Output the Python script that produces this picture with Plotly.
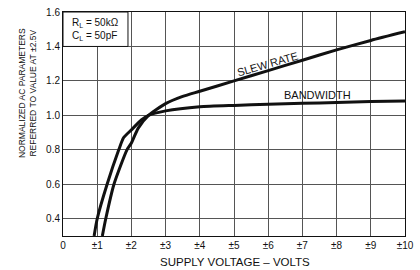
import plotly.graph_objects as go

# Data
bw_x = [0.91, 1.0, 1.29, 1.63, 1.77, 2.0, 2.29, 2.5, 3.0, 4.0, 5.0, 6.0, 7.0, 8.0, 9.0, 10.0]
bw_y = [0.30, 0.40, 0.60, 0.80, 0.87, 0.916, 0.973, 1.0, 1.026, 1.05, 1.058, 1.064, 1.07, 1.075, 1.08, 1.083]

sr_x = [1.15, 1.25, 1.49, 1.87, 2.0, 2.2, 2.5, 3.0, 3.5, 4.0, 5.0, 6.0, 7.0, 8.0, 9.0, 10.0]
sr_y = [0.30, 0.40, 0.60, 0.80, 0.84, 0.926, 1.0, 1.068, 1.11, 1.14, 1.20, 1.26, 1.32, 1.38, 1.435, 1.485]

x_ticks = [0, 1, 2, 3, 4, 5, 6, 7, 8, 9, 10]
x_labels = ["0", "±1", "±2", "±3", "±4", "±5", "±6", "±7", "±8", "±9", "±10"]
y_ticks = [0.4, 0.6, 0.8, 1.0, 1.2, 1.4, 1.6]
y_labels = ["0.4", "0.6", "0.8", "1.0", "1.2", "1.4", "1.6"]

FONT = "Liberation Sans, Arial, sans-serif"
INK = "#111111"

fig = go.Figure()
fig.add_trace(go.Scatter(x=bw_x, y=bw_y, mode="lines", line=dict(color=INK, width=3, shape="spline", smoothing=0.6),
                         name="BANDWIDTH", showlegend=False, hoverinfo="skip"))
fig.add_trace(go.Scatter(x=sr_x, y=sr_y, mode="lines", line=dict(color=INK, width=3, shape="spline", smoothing=0.6),
                         name="SLEW RATE", showlegend=False, hoverinfo="skip"))

fig.update_layout(
    width=420, height=270,
    margin=dict(l=63, r=6, t=8, b=34),
    paper_bgcolor="white", plot_bgcolor="white",
    font=dict(family=FONT, size=10, color=INK),
    xaxis=dict(range=[0, 10], tickvals=x_ticks, ticktext=x_labels, showgrid=True, gridcolor="#555555", gridwidth=1,
               showline=True, linecolor=INK, linewidth=1, mirror=True, ticks="", zeroline=False,
               ticklabeloverflow="allow", tickfont=dict(size=10, color=INK)),
    yaxis=dict(range=[0.3, 1.6], tickvals=y_ticks, ticktext=y_labels, showgrid=True, gridcolor="#555555", gridwidth=1,
               showline=True, linecolor=INK, linewidth=1, mirror=True, ticks="", zeroline=False,
               ticklabeloverflow="allow", tickfont=dict(size=10, color=INK)),
)

# Condition box
fig.add_shape(type="rect", xref="x", yref="y", x0=0, x1=1.9, y0=1.4, y1=1.6,
              fillcolor="white", line=dict(color=INK, width=1), layer="above")
fig.add_annotation(xref="x", yref="y", x=0.2, y=1.5, xanchor="left", yanchor="middle",
                   text="R<sub>L</sub> = 50kΩ<br>C<sub>L</sub> = 50pF", showarrow=False, align="left",
                   font=dict(size=10, color=INK, family=FONT))

# Curve labels
fig.add_annotation(xref="x", yref="y", x=5.97, y=1.30, text="SLEW RATE", showarrow=False,
                   textangle=-16, font=dict(size=11, color=INK, family=FONT))
fig.add_annotation(xref="x", yref="y", x=7.43, y=1.12, text="BANDWIDTH", showarrow=False,
                   font=dict(size=11, color=INK, family=FONT))

# Axis titles
fig.add_annotation(xref="paper", yref="paper", x=0.503, y=-0.114, yanchor="middle", xanchor="center",
                   text="SUPPLY VOLTAGE – VOLTS", showarrow=False, font=dict(size=11.5, color=INK, family=FONT))
fig.add_annotation(xref="paper", yref="paper", x=-0.104, y=0.64, xanchor="center", yanchor="middle",
                   text="NORMALIZED AC PARAMETERS<br>REFERRED TO VALUE AT ±2.5V", showarrow=False, textangle=-90,
                   font=dict(size=8.5, color=INK, family=FONT))

fig.write_html("out.html", config={"displayModeBar": False},
               post_script="document.body.style.margin='0';")
